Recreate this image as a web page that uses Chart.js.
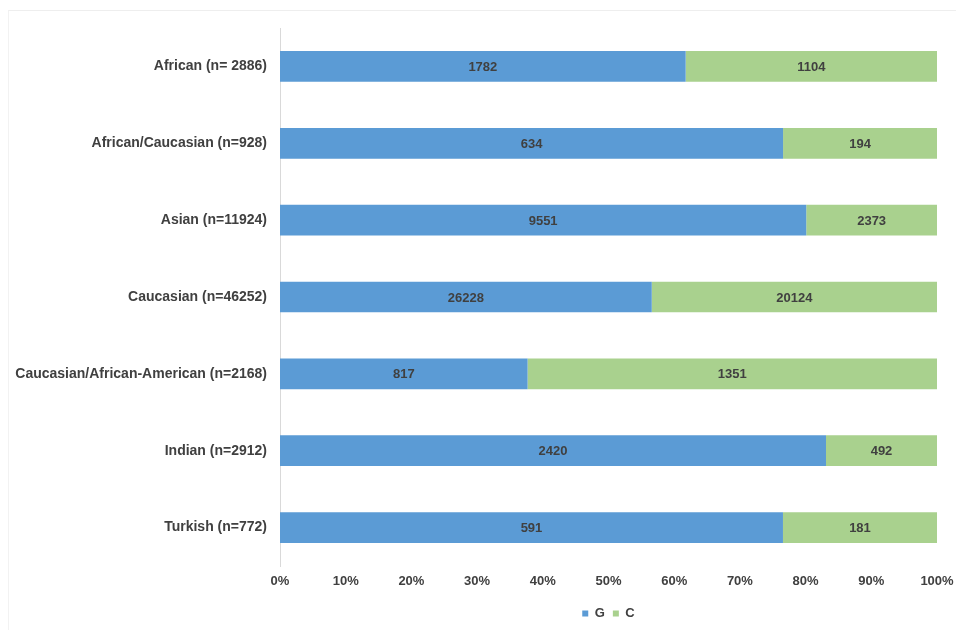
<!DOCTYPE html>
<html lang="en">
<head>
  <meta charset="UTF-8" />
  <title>G/C distribution</title>
  <script src="https://cdn.jsdelivr.net/npm/chart.js"></script>
  <style>
    html, body {
      margin: 0;
      padding: 0;
      background: #fff;
    }
    .frame {
      position: absolute;
      left: 8px;
      top: 10px;
      width: 960px;
      height: 640px;
      border-top: 1px solid #eeeeee;
      border-left: 1px solid #f2f2f2;
    }
    #chart {
      position: absolute;
      left: 0;
      top: 0;
    }
  </style>
</head>
<body>
  <div class="frame"></div>
  <canvas id="chart" width="956" height="630"></canvas>

  <script>
    // data
    const categories = [
      'African (n= 2886)',
      'African/Caucasian (n=928)',
      'Asian (n=11924)',
      'Caucasian (n=46252)',
      'Caucasian/African-American (n=2168)',
      'Indian (n=2912)',
      'Turkish (n=772)'
    ];
    const gCounts = [1782, 634, 9551, 26228, 817, 2420, 591];
    const cCounts = [1104, 194, 2373, 20124, 1351, 492, 181];
    const tickLabels = ['0%', '10%', '20%', '30%', '40%', '50%', '60%', '70%', '80%', '90%', '100%'];

    const totals = gCounts.map((g, i) => g + cCounts[i]);
    const toPct = arr => arr.map((v, i) => v / totals[i] * 100);

    Chart.defaults.font.family = '"Liberation Sans", Arial, sans-serif';
    Chart.defaults.font.weight = 'bold';
    Chart.defaults.color = '#404040';

    // draws the raw counts in the middle of each segment
    const countLabels = {
      id: 'countLabels',
      afterDatasetsDraw(chart) {
        const ctx = chart.ctx;
        ctx.save();
        ctx.font = 'bold 13px "Liberation Sans", Arial, sans-serif';
        ctx.fillStyle = '#404040';
        ctx.textAlign = 'center';
        ctx.textBaseline = 'middle';
        chart.data.datasets.forEach((ds, di) => {
          chart.getDatasetMeta(di).data.forEach((bar, i) => {
            const p = bar.getProps(['x', 'y', 'base'], true);
            ctx.fillText(ds.counts[i], (p.x + p.base) / 2, p.y + 1);
          });
        });
        ctx.restore();
      }
    };

    new Chart(document.getElementById('chart'), {
      type: 'bar',
      data: {
        labels: categories,
        datasets: [{
          label: 'G',
          data: toPct(gCounts),
          counts: gCounts,
          backgroundColor: '#5b9bd5',
          barPercentage: 0.8,
          categoryPercentage: 0.5
        }, {
          label: 'C',
          data: toPct(cCounts),
          counts: cCounts,
          backgroundColor: '#a9d18e',
          barPercentage: 0.8,
          categoryPercentage: 0.5
        }]
      },
      options: {
        indexAxis: 'y',
        responsive: false,
        animation: false,
        layout: {
          padding: { left: 0, right: 19, top: 28, bottom: 0 }
        },
        plugins: {
          legend: {
            position: 'bottom',
            fullSize: false,
            labels: {
              boxWidth: 6,
              boxHeight: 6,
              padding: 8,
              font: { size: 13, weight: 'bold' },
              color: '#404040'
            }
          },
          tooltip: { enabled: false }
        },
        scales: {
          x: {
            stacked: true,
            min: 0,
            max: 100,
            grid: { display: false },
            border: { display: false },
            ticks: {
              stepSize: 10,
              padding: 0,
              font: { size: 13, weight: 'bold' },
              color: '#404040',
              callback: (v, i) => tickLabels[i]
            },
            afterFit: scale => { scale.height = 33; }
          },
          y: {
            stacked: true,
            grid: { display: false },
            border: { display: true, color: '#d9d9d9' },
            ticks: {
              padding: 5,
              font: { size: 14, weight: 'bold' },
              color: '#404040'
            },
            afterFit: scale => { scale.width = 280; }
          }
        }
      },
      plugins: [countLabels]
    });
  </script>
</body>
</html>
